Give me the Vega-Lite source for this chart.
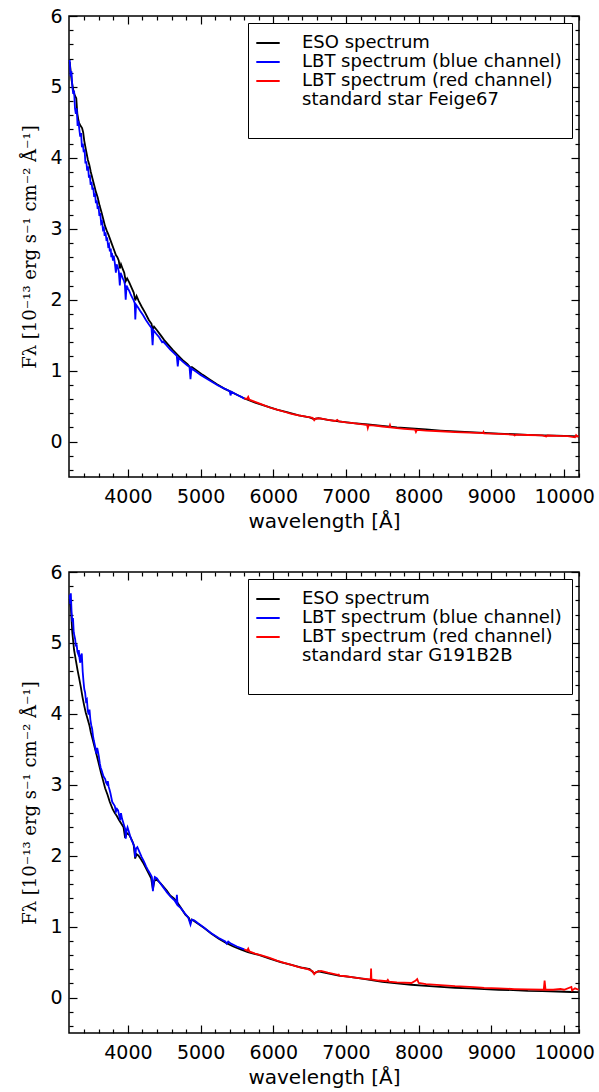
{
  "$schema": "https://vega.github.io/schema/vega-lite/v6.json",
  "padding": {"left": 21, "top": 6, "right": 5, "bottom": 5},
  "spacing": 30,
  "resolve": {"scale": {"color": "independent"}},
  "config": {
    "view": {"stroke": "#000", "strokeWidth": 1.5},
    "axis": {"grid": false, "domain": false, "labelFont": "DejaVu Sans", "labelFontSize": 19, "labelColor": "#000", "tickColor": "#000", "tickWidth": 1.2, "titleFont": "DejaVu Sans", "titleFontSize": 20, "titleFontWeight": "normal", "titleColor": "#000", "format": "d", "labelFlush": false},
    "legend": {"strokeColor": "#000", "fillColor": "#fff", "padding": 10, "cornerRadius": 0, "labelFont": "DejaVu Sans", "labelFontSize": 18, "labelColor": "#000", "labelLimit": 0, "symbolType": "M-1.3,0H1.3", "symbolSize": 324, "symbolStrokeWidth": 2, "labelOffset": 24, "rowPadding": 0}
  },
  "datasets": {
    "f_eso": [{"lam":3200,"flux":5.35},{"lam":3225,"flux":5.10},{"lam":3250,"flux":4.95},{"lam":3270,"flux":4.88},{"lam":3290,"flux":4.84},{"lam":3305,"flux":4.62},{"lam":3325,"flux":4.50},{"lam":3345,"flux":4.46},{"lam":3370,"flux":4.42},{"lam":3385,"flux":4.36},{"lam":3400,"flux":4.24},{"lam":3425,"flux":4.10},{"lam":3450,"flux":3.97},{"lam":3470,"flux":3.90},{"lam":3490,"flux":3.80},{"lam":3510,"flux":3.72},{"lam":3535,"flux":3.62},{"lam":3560,"flux":3.52},{"lam":3585,"flux":3.44},{"lam":3610,"flux":3.33},{"lam":3635,"flux":3.24},{"lam":3660,"flux":3.14},{"lam":3685,"flux":3.04},{"lam":3710,"flux":2.97},{"lam":3735,"flux":2.91},{"lam":3760,"flux":2.84},{"lam":3785,"flux":2.77},{"lam":3810,"flux":2.70},{"lam":3835,"flux":2.63},{"lam":3855,"flux":2.60},{"lam":3875,"flux":2.55},{"lam":3889,"flux":2.44},{"lam":3905,"flux":2.50},{"lam":3930,"flux":2.43},{"lam":3950,"flux":2.38},{"lam":3970,"flux":2.26},{"lam":3990,"flux":2.30},{"lam":4020,"flux":2.24},{"lam":4050,"flux":2.17},{"lam":4080,"flux":2.10},{"lam":4102,"flux":1.99},{"lam":4120,"flux":2.05},{"lam":4150,"flux":1.98},{"lam":4190,"flux":1.90},{"lam":4240,"flux":1.81},{"lam":4290,"flux":1.71},{"lam":4325,"flux":1.66},{"lam":4340,"flux":1.58},{"lam":4360,"flux":1.62},{"lam":4400,"flux":1.57},{"lam":4450,"flux":1.50},{"lam":4500,"flux":1.43},{"lam":4560,"flux":1.36},{"lam":4620,"flux":1.29},{"lam":4686,"flux":1.22},{"lam":4750,"flux":1.15},{"lam":4820,"flux":1.09},{"lam":4861,"flux":1.04},{"lam":4880,"flux":1.05},{"lam":4950,"flux":1.00},{"lam":5030,"flux":0.94},{"lam":5120,"flux":0.88},{"lam":5220,"flux":0.81},{"lam":5320,"flux":0.75},{"lam":5420,"flux":0.70},{"lam":5520,"flux":0.65},{"lam":5620,"flux":0.60},{"lam":5750,"flux":0.55},{"lam":5900,"flux":0.50},{"lam":6050,"flux":0.45},{"lam":6200,"flux":0.41},{"lam":6350,"flux":0.37},{"lam":6500,"flux":0.34},{"lam":6563,"flux":0.315},{"lam":6620,"flux":0.33},{"lam":6750,"flux":0.305},{"lam":6900,"flux":0.285},{"lam":7100,"flux":0.26},{"lam":7300,"flux":0.24},{"lam":7500,"flux":0.22},{"lam":7700,"flux":0.20},{"lam":7900,"flux":0.185},{"lam":8100,"flux":0.17},{"lam":8300,"flux":0.155},{"lam":8500,"flux":0.143},{"lam":8700,"flux":0.132},{"lam":8900,"flux":0.122},{"lam":9100,"flux":0.112},{"lam":9300,"flux":0.103},{"lam":9500,"flux":0.095},{"lam":9700,"flux":0.088},{"lam":9900,"flux":0.082},{"lam":10100,"flux":0.076},{"lam":10200,"flux":0.073}],
    "f_blue": [{"lam":3200,"flux":5.38},{"lam":3212,"flux":5.15},{"lam":3224,"flux":5.22},{"lam":3236,"flux":5.00},{"lam":3248,"flux":4.90},{"lam":3260,"flux":4.95},{"lam":3272,"flux":4.70},{"lam":3284,"flux":4.62},{"lam":3296,"flux":4.70},{"lam":3308,"flux":4.45},{"lam":3320,"flux":4.52},{"lam":3332,"flux":4.40},{"lam":3344,"flux":4.30},{"lam":3356,"flux":4.35},{"lam":3368,"flux":4.15},{"lam":3380,"flux":4.20},{"lam":3392,"flux":4.08},{"lam":3404,"flux":4.12},{"lam":3416,"flux":3.92},{"lam":3428,"flux":3.95},{"lam":3440,"flux":3.82},{"lam":3452,"flux":3.88},{"lam":3464,"flux":3.72},{"lam":3476,"flux":3.76},{"lam":3488,"flux":3.62},{"lam":3500,"flux":3.66},{"lam":3512,"flux":3.55},{"lam":3524,"flux":3.58},{"lam":3536,"flux":3.45},{"lam":3548,"flux":3.50},{"lam":3560,"flux":3.36},{"lam":3572,"flux":3.40},{"lam":3584,"flux":3.28},{"lam":3596,"flux":3.32},{"lam":3608,"flux":3.18},{"lam":3620,"flux":3.22},{"lam":3632,"flux":3.08},{"lam":3644,"flux":3.10},{"lam":3656,"flux":3.00},{"lam":3668,"flux":3.03},{"lam":3680,"flux":2.90},{"lam":3692,"flux":2.95},{"lam":3704,"flux":2.85},{"lam":3716,"flux":2.86},{"lam":3728,"flux":2.76},{"lam":3740,"flux":2.78},{"lam":3752,"flux":2.68},{"lam":3764,"flux":2.72},{"lam":3772,"flux":2.60},{"lam":3780,"flux":2.66},{"lam":3795,"flux":2.55},{"lam":3805,"flux":2.62},{"lam":3820,"flux":2.52},{"lam":3835,"flux":2.38},{"lam":3845,"flux":2.50},{"lam":3860,"flux":2.46},{"lam":3875,"flux":2.40},{"lam":3889,"flux":2.20},{"lam":3900,"flux":2.38},{"lam":3915,"flux":2.34},{"lam":3930,"flux":2.30},{"lam":3945,"flux":2.27},{"lam":3958,"flux":2.22},{"lam":3970,"flux":2.00},{"lam":3982,"flux":2.20},{"lam":4000,"flux":2.16},{"lam":4020,"flux":2.12},{"lam":4040,"flux":2.07},{"lam":4060,"flux":2.03},{"lam":4080,"flux":1.99},{"lam":4094,"flux":1.95},{"lam":4102,"flux":1.72},{"lam":4112,"flux":1.93},{"lam":4140,"flux":1.89},{"lam":4170,"flux":1.84},{"lam":4210,"flux":1.78},{"lam":4250,"flux":1.71},{"lam":4290,"flux":1.65},{"lam":4325,"flux":1.60},{"lam":4340,"flux":1.36},{"lam":4352,"flux":1.57},{"lam":4390,"flux":1.52},{"lam":4430,"flux":1.47},{"lam":4471,"flux":1.40},{"lam":4485,"flux":1.41},{"lam":4530,"flux":1.36},{"lam":4580,"flux":1.30},{"lam":4630,"flux":1.25},{"lam":4672,"flux":1.21},{"lam":4686,"flux":1.06},{"lam":4698,"flux":1.18},{"lam":4750,"flux":1.13},{"lam":4810,"flux":1.08},{"lam":4848,"flux":1.05},{"lam":4861,"flux":0.88},{"lam":4874,"flux":1.03},{"lam":4930,"flux":0.99},{"lam":5000,"flux":0.94},{"lam":5080,"flux":0.89},{"lam":5160,"flux":0.84},{"lam":5240,"flux":0.79},{"lam":5320,"flux":0.75},{"lam":5400,"flux":0.71},{"lam":5412,"flux":0.65},{"lam":5425,"flux":0.70},{"lam":5500,"flux":0.66},{"lam":5560,"flux":0.63},{"lam":5610,"flux":0.60}],
    "f_red": [{"lam":5600,"flux":0.61},{"lam":5640,"flux":0.60},{"lam":5655,"flux":0.63},{"lam":5670,"flux":0.59},{"lam":5750,"flux":0.56},{"lam":5850,"flux":0.52},{"lam":5950,"flux":0.48},{"lam":6050,"flux":0.45},{"lam":6150,"flux":0.42},{"lam":6250,"flux":0.39},{"lam":6350,"flux":0.37},{"lam":6450,"flux":0.35},{"lam":6540,"flux":0.335},{"lam":6563,"flux":0.30},{"lam":6585,"flux":0.325},{"lam":6650,"flux":0.325},{"lam":6750,"flux":0.305},{"lam":6850,"flux":0.29},{"lam":6880,"flux":0.305},{"lam":6900,"flux":0.285},{"lam":7000,"flux":0.27},{"lam":7100,"flux":0.26},{"lam":7200,"flux":0.245},{"lam":7290,"flux":0.235},{"lam":7300,"flux":0.19},{"lam":7312,"flux":0.232},{"lam":7400,"flux":0.225},{"lam":7500,"flux":0.212},{"lam":7595,"flux":0.20},{"lam":7605,"flux":0.23},{"lam":7615,"flux":0.198},{"lam":7700,"flux":0.19},{"lam":7800,"flux":0.18},{"lam":7950,"flux":0.168},{"lam":7962,"flux":0.135},{"lam":7975,"flux":0.165},{"lam":8100,"flux":0.155},{"lam":8300,"flux":0.145},{"lam":8500,"flux":0.133},{"lam":8700,"flux":0.125},{"lam":8885,"flux":0.118},{"lam":8892,"flux":0.135},{"lam":8900,"flux":0.116},{"lam":9100,"flux":0.107},{"lam":9300,"flux":0.098},{"lam":9320,"flux":0.085},{"lam":9340,"flux":0.097},{"lam":9500,"flux":0.092},{"lam":9700,"flux":0.086},{"lam":9755,"flux":0.072},{"lam":9770,"flux":0.085},{"lam":9900,"flux":0.08},{"lam":10050,"flux":0.076},{"lam":10150,"flux":0.06},{"lam":10165,"flux":0.09},{"lam":10180,"flux":0.07},{"lam":10200,"flux":0.075}],
    "g_eso": [{"lam":3200,"flux":5.62},{"lam":3215,"flux":5.50},{"lam":3235,"flux":5.15},{"lam":3260,"flux":4.90},{"lam":3285,"flux":4.75},{"lam":3307,"flux":4.62},{"lam":3330,"flux":4.50},{"lam":3352,"flux":4.38},{"lam":3375,"flux":4.24},{"lam":3398,"flux":4.12},{"lam":3420,"flux":4.02},{"lam":3445,"flux":3.93},{"lam":3470,"flux":3.84},{"lam":3490,"flux":3.74},{"lam":3515,"flux":3.64},{"lam":3535,"flux":3.56},{"lam":3570,"flux":3.42},{"lam":3604,"flux":3.28},{"lam":3630,"flux":3.17},{"lam":3651,"flux":3.09},{"lam":3687,"flux":2.95},{"lam":3720,"flux":2.86},{"lam":3750,"flux":2.76},{"lam":3789,"flux":2.66},{"lam":3820,"flux":2.60},{"lam":3848,"flux":2.56},{"lam":3880,"flux":2.50},{"lam":3917,"flux":2.44},{"lam":3940,"flux":2.40},{"lam":3962,"flux":2.25},{"lam":3985,"flux":2.32},{"lam":4020,"flux":2.29},{"lam":4055,"flux":2.22},{"lam":4080,"flux":2.15},{"lam":4100,"flux":1.96},{"lam":4120,"flux":2.02},{"lam":4147,"flux":2.00},{"lam":4180,"flux":1.95},{"lam":4216,"flux":1.89},{"lam":4250,"flux":1.82},{"lam":4285,"flux":1.75},{"lam":4320,"flux":1.68},{"lam":4344,"flux":1.53},{"lam":4365,"flux":1.65},{"lam":4399,"flux":1.66},{"lam":4440,"flux":1.62},{"lam":4491,"flux":1.56},{"lam":4540,"flux":1.50},{"lam":4582,"flux":1.44},{"lam":4630,"flux":1.40},{"lam":4674,"flux":1.35},{"lam":4720,"flux":1.28},{"lam":4790,"flux":1.17},{"lam":4840,"flux":1.12},{"lam":4860,"flux":1.06},{"lam":4880,"flux":1.10},{"lam":4950,"flux":1.05},{"lam":5050,"flux":0.98},{"lam":5150,"flux":0.90},{"lam":5250,"flux":0.83},{"lam":5350,"flux":0.77},{"lam":5450,"flux":0.72},{"lam":5550,"flux":0.68},{"lam":5650,"flux":0.64},{"lam":5800,"flux":0.60},{"lam":5950,"flux":0.55},{"lam":6100,"flux":0.50},{"lam":6250,"flux":0.46},{"lam":6400,"flux":0.42},{"lam":6500,"flux":0.40},{"lam":6563,"flux":0.34},{"lam":6620,"flux":0.37},{"lam":6750,"flux":0.34},{"lam":6900,"flux":0.31},{"lam":7050,"flux":0.29},{"lam":7200,"flux":0.27},{"lam":7350,"flux":0.245},{"lam":7500,"flux":0.22},{"lam":7700,"flux":0.20},{"lam":7900,"flux":0.18},{"lam":8100,"flux":0.165},{"lam":8300,"flux":0.15},{"lam":8500,"flux":0.138},{"lam":8700,"flux":0.128},{"lam":8900,"flux":0.12},{"lam":9100,"flux":0.11},{"lam":9300,"flux":0.105},{"lam":9500,"flux":0.095},{"lam":9700,"flux":0.09},{"lam":9900,"flux":0.085},{"lam":10100,"flux":0.078},{"lam":10200,"flux":0.075}],
    "g_blue": [{"lam":3200,"flux":5.68},{"lam":3208,"flux":5.55},{"lam":3215,"flux":5.70},{"lam":3225,"flux":5.45},{"lam":3235,"flux":5.30},{"lam":3245,"flux":5.35},{"lam":3255,"flux":5.15},{"lam":3265,"flux":5.10},{"lam":3275,"flux":5.05},{"lam":3285,"flux":4.95},{"lam":3295,"flux":4.98},{"lam":3305,"flux":4.88},{"lam":3315,"flux":4.85},{"lam":3325,"flux":4.90},{"lam":3335,"flux":4.78},{"lam":3345,"flux":4.72},{"lam":3355,"flux":4.82},{"lam":3366,"flux":4.85},{"lam":3378,"flux":4.60},{"lam":3390,"flux":4.45},{"lam":3400,"flux":4.35},{"lam":3412,"flux":4.30},{"lam":3424,"flux":4.18},{"lam":3436,"flux":4.20},{"lam":3448,"flux":4.05},{"lam":3460,"flux":3.99},{"lam":3472,"flux":4.06},{"lam":3484,"flux":3.92},{"lam":3496,"flux":3.84},{"lam":3508,"flux":3.79},{"lam":3520,"flux":3.69},{"lam":3532,"flux":3.62},{"lam":3545,"flux":3.56},{"lam":3558,"flux":3.49},{"lam":3566,"flux":3.44},{"lam":3578,"flux":3.52},{"lam":3590,"flux":3.46},{"lam":3602,"flux":3.39},{"lam":3614,"flux":3.30},{"lam":3626,"flux":3.24},{"lam":3640,"flux":3.20},{"lam":3652,"flux":3.16},{"lam":3664,"flux":3.12},{"lam":3676,"flux":3.10},{"lam":3688,"flux":3.08},{"lam":3700,"flux":3.03},{"lam":3712,"flux":3.01},{"lam":3724,"flux":3.05},{"lam":3736,"flux":2.97},{"lam":3748,"flux":2.93},{"lam":3760,"flux":2.88},{"lam":3772,"flux":2.82},{"lam":3784,"flux":2.76},{"lam":3796,"flux":2.74},{"lam":3808,"flux":2.72},{"lam":3820,"flux":2.70},{"lam":3835,"flux":2.62},{"lam":3850,"flux":2.66},{"lam":3865,"flux":2.64},{"lam":3880,"flux":2.57},{"lam":3893,"flux":2.50},{"lam":3905,"flux":2.60},{"lam":3920,"flux":2.52},{"lam":3935,"flux":2.47},{"lam":3950,"flux":2.42},{"lam":3962,"flux":2.38},{"lam":3970,"flux":2.24},{"lam":3980,"flux":2.35},{"lam":3995,"flux":2.40},{"lam":4010,"flux":2.35},{"lam":4030,"flux":2.28},{"lam":4050,"flux":2.22},{"lam":4070,"flux":2.18},{"lam":4090,"flux":2.12},{"lam":4100,"flux":1.98},{"lam":4112,"flux":2.10},{"lam":4130,"flux":2.12},{"lam":4160,"flux":2.05},{"lam":4190,"flux":1.98},{"lam":4220,"flux":1.92},{"lam":4250,"flux":1.85},{"lam":4280,"flux":1.79},{"lam":4310,"flux":1.74},{"lam":4330,"flux":1.70},{"lam":4344,"flux":1.50},{"lam":4355,"flux":1.62},{"lam":4370,"flux":1.70},{"lam":4400,"flux":1.68},{"lam":4440,"flux":1.62},{"lam":4490,"flux":1.55},{"lam":4540,"flux":1.48},{"lam":4590,"flux":1.42},{"lam":4640,"flux":1.37},{"lam":4665,"flux":1.33},{"lam":4674,"flux":1.45},{"lam":4684,"flux":1.30},{"lam":4720,"flux":1.27},{"lam":4780,"flux":1.19},{"lam":4830,"flux":1.13},{"lam":4861,"flux":1.03},{"lam":4880,"flux":1.10},{"lam":4912,"flux":1.09},{"lam":4960,"flux":1.05},{"lam":5040,"flux":0.99},{"lam":5142,"flux":0.91},{"lam":5250,"flux":0.84},{"lam":5340,"flux":0.79},{"lam":5360,"flux":0.76},{"lam":5380,"flux":0.79},{"lam":5418,"flux":0.76},{"lam":5500,"flux":0.72},{"lam":5601,"flux":0.68}],
    "g_red": [{"lam":5600,"flux":0.68},{"lam":5640,"flux":0.66},{"lam":5655,"flux":0.69},{"lam":5670,"flux":0.65},{"lam":5750,"flux":0.62},{"lam":5850,"flux":0.59},{"lam":5950,"flux":0.56},{"lam":6050,"flux":0.52},{"lam":6150,"flux":0.49},{"lam":6250,"flux":0.46},{"lam":6350,"flux":0.43},{"lam":6474,"flux":0.40},{"lam":6540,"flux":0.37},{"lam":6563,"flux":0.33},{"lam":6590,"flux":0.36},{"lam":6657,"flux":0.375},{"lam":6750,"flux":0.35},{"lam":6887,"flux":0.32},{"lam":6900,"flux":0.325},{"lam":6910,"flux":0.31},{"lam":7000,"flux":0.30},{"lam":7100,"flux":0.285},{"lam":7200,"flux":0.27},{"lam":7300,"flux":0.26},{"lam":7340,"flux":0.255},{"lam":7345,"flux":0.41},{"lam":7350,"flux":0.255},{"lam":7450,"flux":0.24},{"lam":7560,"flux":0.23},{"lam":7575,"flux":0.25},{"lam":7590,"flux":0.225},{"lam":7700,"flux":0.215},{"lam":7900,"flux":0.205},{"lam":7960,"flux":0.24},{"lam":7980,"flux":0.26},{"lam":8000,"flux":0.205},{"lam":8100,"flux":0.19},{"lam":8300,"flux":0.175},{"lam":8500,"flux":0.16},{"lam":8700,"flux":0.15},{"lam":8860,"flux":0.14},{"lam":8900,"flux":0.135},{"lam":9100,"flux":0.13},{"lam":9315,"flux":0.12},{"lam":9500,"flux":0.115},{"lam":9720,"flux":0.11},{"lam":9732,"flux":0.24},{"lam":9745,"flux":0.11},{"lam":9850,"flux":0.11},{"lam":9950,"flux":0.12},{"lam":10000,"flux":0.11},{"lam":10100,"flux":0.15},{"lam":10110,"flux":0.10},{"lam":10150,"flux":0.13},{"lam":10200,"flux":0.11}]
  },
  "vconcat": [
    {
      "width": 510, "height": 461,
      "resolve": {"axis": {"x": "independent", "y": "independent"}},
      "layer": [
        {"data": {"name": "f_eso"}, "mark": {"type": "line", "strokeWidth": 1.8},
         "encoding": {
           "x": {"field": "lam", "type": "quantitative", "scale": {"domain": [3190, 10205], "nice": false, "zero": false}, "axis": {"orient": "bottom", "values": [4000,5000,6000,7000,8000,9000,10000], "offset": -8, "tickSize": 8, "labelPadding": 10, "title": "wavelength [Å]", "titlePadding": 5}},
           "y": {"field": "flux", "type": "quantitative", "scale": {"domain": [-0.5, 6], "nice": false, "zero": false}, "axis": {"orient": "left", "values": [0,1,2,3,4,5,6], "offset": -8, "tickSize": 8, "labelPadding": 7, "title": "Fλ [10⁻¹³ erg s⁻¹ cm⁻² Å⁻¹]", "titleFont": "DejaVu Serif", "titleFontSize": 18, "titlePadding": 10}},
           "color": {"datum": "ESO spectrum", "type": "nominal",
             "scale": {"domain": ["ESO spectrum", "LBT spectrum (blue channel)", "LBT spectrum (red channel)", "standard star Feige67", " "], "range": ["#000000", "#0000ff", "#ff0000", "rgba(0,0,0,0)", "rgba(0,0,0,0)"]},
             "legend": {"title": null, "orient": "top-right", "offset": 7}}
         }},
        {"data": {"name": "f_blue"}, "mark": {"type": "line", "strokeWidth": 1.8},
         "encoding": {"x": {"field": "lam", "type": "quantitative", "axis": null}, "y": {"field": "flux", "type": "quantitative", "axis": null}, "color": {"datum": "LBT spectrum (blue channel)", "type": "nominal"}}},
        {"data": {"name": "f_red"}, "mark": {"type": "line", "strokeWidth": 1.8},
         "encoding": {"x": {"field": "lam", "type": "quantitative", "axis": null}, "y": {"field": "flux", "type": "quantitative", "axis": null}, "color": {"datum": "LBT spectrum (red channel)", "type": "nominal"}}},
        {"data": {"name": "f_eso"}, "mark": {"type": "line", "opacity": 0},
         "encoding": {"x": {"field": "lam", "type": "quantitative", "axis": {"orient": "top", "values": [4000,5000,6000,7000,8000,9000,10000], "offset": -8, "tickSize": 8, "labels": false, "title": null}}, "y": {"field": "flux", "type": "quantitative", "axis": {"orient": "right", "values": [0,1,2,3,4,5,6], "offset": -8, "tickSize": 8, "labels": false, "title": null}}}},
        {"data": {"name": "f_eso"}, "mark": {"type": "line", "opacity": 0},
         "encoding": {"x": {"field": "lam", "type": "quantitative", "axis": {"orient": "bottom", "values": [3400,3600,3800,4200,4400,4600,4800,5200,5400,5600,5800,6200,6400,6600,6800,7200,7400,7600,7800,8200,8400,8600,8800,9200,9400,9600,9800,10200], "offset": -4, "tickSize": 4, "labels": false, "title": null}}, "y": {"field": "flux", "type": "quantitative", "axis": {"orient": "left", "values": [-0.4,-0.2,0.2,0.4,0.6,0.8,1.2,1.4,1.6,1.8,2.2,2.4,2.6,2.8,3.2,3.4,3.6,3.8,4.2,4.4,4.6,4.8,5.2,5.4,5.6,5.8], "offset": -4, "tickSize": 4, "labels": false, "title": null}}}},
        {"data": {"name": "f_eso"}, "mark": {"type": "line", "opacity": 0},
         "encoding": {"x": {"field": "lam", "type": "quantitative", "axis": {"orient": "top", "values": [3400,3600,3800,4200,4400,4600,4800,5200,5400,5600,5800,6200,6400,6600,6800,7200,7400,7600,7800,8200,8400,8600,8800,9200,9400,9600,9800,10200], "offset": -4, "tickSize": 4, "labels": false, "title": null}}, "y": {"field": "flux", "type": "quantitative", "axis": {"orient": "right", "values": [-0.4,-0.2,0.2,0.4,0.6,0.8,1.2,1.4,1.6,1.8,2.2,2.4,2.6,2.8,3.2,3.4,3.6,3.8,4.2,4.4,4.6,4.8,5.2,5.4,5.6,5.8], "offset": -4, "tickSize": 4, "labels": false, "title": null}}}}
      ]
    },
    {
      "width": 510, "height": 461,
      "resolve": {"axis": {"x": "independent", "y": "independent"}},
      "layer": [
        {"data": {"name": "g_eso"}, "mark": {"type": "line", "strokeWidth": 1.8},
         "encoding": {
           "x": {"field": "lam", "type": "quantitative", "scale": {"domain": [3190, 10205], "nice": false, "zero": false}, "axis": {"orient": "bottom", "values": [4000,5000,6000,7000,8000,9000,10000], "offset": -8, "tickSize": 8, "labelPadding": 10, "title": "wavelength [Å]", "titlePadding": 5}},
           "y": {"field": "flux", "type": "quantitative", "scale": {"domain": [-0.5, 6], "nice": false, "zero": false}, "axis": {"orient": "left", "values": [0,1,2,3,4,5,6], "offset": -8, "tickSize": 8, "labelPadding": 7, "title": "Fλ [10⁻¹³ erg s⁻¹ cm⁻² Å⁻¹]", "titleFont": "DejaVu Serif", "titleFontSize": 18, "titlePadding": 10}},
           "color": {"datum": "ESO spectrum", "type": "nominal",
             "scale": {"domain": ["ESO spectrum", "LBT spectrum (blue channel)", "LBT spectrum (red channel)", "standard star G191B2B", " "], "range": ["#000000", "#0000ff", "#ff0000", "rgba(0,0,0,0)", "rgba(0,0,0,0)"]},
             "legend": {"title": null, "orient": "top-right", "offset": 7}}
         }},
        {"data": {"name": "g_blue"}, "mark": {"type": "line", "strokeWidth": 1.8},
         "encoding": {"x": {"field": "lam", "type": "quantitative", "axis": null}, "y": {"field": "flux", "type": "quantitative", "axis": null}, "color": {"datum": "LBT spectrum (blue channel)", "type": "nominal"}}},
        {"data": {"name": "g_red"}, "mark": {"type": "line", "strokeWidth": 1.8},
         "encoding": {"x": {"field": "lam", "type": "quantitative", "axis": null}, "y": {"field": "flux", "type": "quantitative", "axis": null}, "color": {"datum": "LBT spectrum (red channel)", "type": "nominal"}}},
        {"data": {"name": "g_eso"}, "mark": {"type": "line", "opacity": 0},
         "encoding": {"x": {"field": "lam", "type": "quantitative", "axis": {"orient": "top", "values": [4000,5000,6000,7000,8000,9000,10000], "offset": -8, "tickSize": 8, "labels": false, "title": null}}, "y": {"field": "flux", "type": "quantitative", "axis": {"orient": "right", "values": [0,1,2,3,4,5,6], "offset": -8, "tickSize": 8, "labels": false, "title": null}}}},
        {"data": {"name": "g_eso"}, "mark": {"type": "line", "opacity": 0},
         "encoding": {"x": {"field": "lam", "type": "quantitative", "axis": {"orient": "bottom", "values": [3400,3600,3800,4200,4400,4600,4800,5200,5400,5600,5800,6200,6400,6600,6800,7200,7400,7600,7800,8200,8400,8600,8800,9200,9400,9600,9800,10200], "offset": -4, "tickSize": 4, "labels": false, "title": null}}, "y": {"field": "flux", "type": "quantitative", "axis": {"orient": "left", "values": [-0.4,-0.2,0.2,0.4,0.6,0.8,1.2,1.4,1.6,1.8,2.2,2.4,2.6,2.8,3.2,3.4,3.6,3.8,4.2,4.4,4.6,4.8,5.2,5.4,5.6,5.8], "offset": -4, "tickSize": 4, "labels": false, "title": null}}}},
        {"data": {"name": "g_eso"}, "mark": {"type": "line", "opacity": 0},
         "encoding": {"x": {"field": "lam", "type": "quantitative", "axis": {"orient": "top", "values": [3400,3600,3800,4200,4400,4600,4800,5200,5400,5600,5800,6200,6400,6600,6800,7200,7400,7600,7800,8200,8400,8600,8800,9200,9400,9600,9800,10200], "offset": -4, "tickSize": 4, "labels": false, "title": null}}, "y": {"field": "flux", "type": "quantitative", "axis": {"orient": "right", "values": [-0.4,-0.2,0.2,0.4,0.6,0.8,1.2,1.4,1.6,1.8,2.2,2.4,2.6,2.8,3.2,3.4,3.6,3.8,4.2,4.4,4.6,4.8,5.2,5.4,5.6,5.8], "offset": -4, "tickSize": 4, "labels": false, "title": null}}}}
      ]
    }
  ]
}
